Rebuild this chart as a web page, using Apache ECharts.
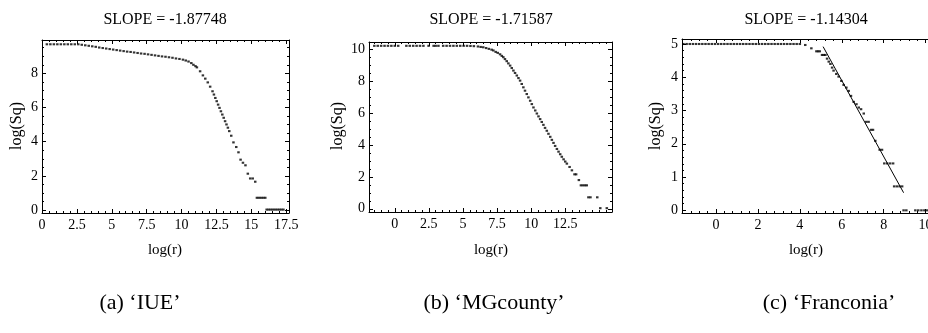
<!DOCTYPE html>
<html>
<head>
<meta charset="utf-8">
<script src="https://cdn.jsdelivr.net/npm/echarts@6/dist/echarts.min.js"></script>
<style>
  html, body { margin: 0; padding: 0; background: #fff; }
  #chart { width: 928px; height: 333px; }
</style>
</head>
<body>
<div id="chart"></div>
<script>
// [log(r), log(Sq)]
const iuePoints = [
  [0.35, 9.7], [0.6, 9.7], [0.85, 9.7], [1.1, 9.7], [1.35, 9.7], [1.6, 9.7], [1.85, 9.7],
  [2.1, 9.7], [2.35, 9.7], [2.6, 9.7], [2.85, 9.67], [3.1, 9.64], [3.35, 9.61], [3.6, 9.58],
  [3.85, 9.55], [4.1, 9.51], [4.35, 9.48], [4.6, 9.45], [4.85, 9.42], [5.1, 9.39], [5.35, 9.36],
  [5.6, 9.33], [5.85, 9.3], [6.1, 9.27], [6.35, 9.25], [6.6, 9.22], [6.85, 9.19], [7.1, 9.16],
  [7.35, 9.14], [7.6, 9.11], [7.85, 9.08], [8.1, 9.05], [8.35, 9.02], [8.6, 8.99], [8.85, 8.97],
  [9.1, 8.94], [9.35, 8.91], [9.6, 8.87], [9.85, 8.84], [10.1, 8.8], [10.3, 8.75], [10.5, 8.69],
  [10.7, 8.6], [10.85, 8.5], [11.0, 8.42], [11.1, 8.35], [11.33, 8.12], [11.53, 7.88],
  [11.7, 7.69], [11.88, 7.47], [12.05, 7.22], [12.22, 6.95], [12.32, 6.76], [12.42, 6.56],
  [12.52, 6.37], [12.62, 6.17], [12.72, 5.98], [12.82, 5.78], [12.92, 5.59], [13.02, 5.4],
  [13.12, 5.2], [13.22, 5.01], [13.32, 4.82], [13.42, 4.62], [13.56, 4.35], [13.72, 3.96],
  [13.92, 3.69], [14.08, 3.38], [14.23, 2.95], [14.4, 2.77], [14.58, 2.62], [14.75, 2.13],
  [14.92, 1.85], [15.1, 1.85], [15.28, 1.66], [15.4, 0.72], [15.55, 0.72], [15.7, 0.72],
  [15.85, 0.72], [16.0, 0.72], [16.1, 0.03], [16.25, 0.03], [16.4, 0.03], [16.55, 0.03],
  [16.7, 0.03], [16.85, 0.03], [17.0, 0.03], [17.15, 0.03], [17.3, 0.03]
]

const mgPoints = [
  [-1.5, 10.21], [-1.25, 10.21], [-1.0, 10.21], [-0.75, 10.21], [-0.5, 10.21], [-0.25, 10.21],
  [0, 10.21], [0.25, 10.21], [0.85, 10.21], [1.1, 10.21], [1.35, 10.21], [1.6, 10.21],
  [1.85, 10.21], [2.1, 10.21], [2.48, 10.21], [2.85, 10.21], [3.0, 10.21], [3.2, 10.21],
  [3.55, 10.21], [3.8, 10.21], [4.05, 10.21], [4.3, 10.21], [4.55, 10.21], [4.8, 10.21],
  [5.05, 10.21], [5.3, 10.21], [5.55, 10.2], [5.8, 10.19], [6.1, 10.17], [6.3, 10.14],
  [6.49, 10.12], [6.7, 10.07], [6.9, 10.02], [7.1, 9.97], [7.23, 9.92], [7.4, 9.83],
  [7.55, 9.77], [7.72, 9.68], [7.85, 9.58], [7.96, 9.5], [8.08, 9.38], [8.21, 9.25],
  [8.33, 9.11], [8.46, 8.97], [8.58, 8.82], [8.7, 8.66], [8.82, 8.51], [8.95, 8.35],
  [9.07, 8.19], [9.19, 8.03], [9.31, 7.82], [9.43, 7.61], [9.55, 7.4], [9.68, 7.19],
  [9.8, 6.98], [9.93, 6.77], [10.05, 6.56], [10.17, 6.35], [10.3, 6.16], [10.42, 5.97],
  [10.54, 5.79], [10.66, 5.62], [10.78, 5.44], [10.9, 5.26], [11.02, 5.07], [11.15, 4.89],
  [11.27, 4.7], [11.4, 4.51], [11.52, 4.32], [11.64, 4.13], [11.76, 3.94], [11.89, 3.75],
  [12.01, 3.58], [12.13, 3.42], [12.25, 3.26], [12.38, 3.1], [12.5, 2.96], [12.62, 2.83],
  [12.82, 2.62], [12.99, 2.41], [13.18, 2.16], [13.3, 2.16], [13.5, 1.8], [13.65, 1.47],
  [13.8, 1.47], [13.95, 1.47], [14.08, 1.47], [14.2, 0.72], [14.35, 0.72], [14.85, 0.72],
  [15.07, 0.04], [15.55, 0.04]
]

const franPoints = [
  [-1.55, 5.0], [-1.4, 5.0], [-1.25, 5.0], [-1.1, 5.0], [-0.95, 5.0], [-0.8, 5.0], [-0.65, 5.0],
  [-0.5, 5.0], [-0.35, 5.0], [-0.2, 5.0], [-0.05, 5.0], [0.1, 5.0], [0.25, 5.0], [0.4, 5.0],
  [0.55, 5.0], [0.7, 5.0], [0.85, 5.0], [1.0, 5.0], [1.15, 5.0], [1.3, 5.0], [1.45, 5.0],
  [1.6, 5.0], [1.75, 5.0], [1.9, 5.0], [2.05, 5.0], [2.2, 5.0], [2.35, 5.0], [2.5, 5.0],
  [2.65, 5.0], [2.8, 5.0], [2.95, 5.0], [3.1, 5.0], [3.25, 5.0], [3.4, 5.0], [3.55, 5.0],
  [3.7, 5.0], [3.85, 5.0], [4.0, 5.0], [4.26, 4.97], [4.55, 4.87], [4.79, 4.78], [4.87, 4.78],
  [4.95, 4.78], [5.06, 4.67], [5.14, 4.67], [5.22, 4.67], [5.3, 4.56], [5.38, 4.47],
  [5.46, 4.4], [5.54, 4.29], [5.61, 4.2], [5.74, 4.1], [5.85, 4.02], [5.98, 3.89], [6.09, 3.77],
  [6.22, 3.69], [6.33, 3.59], [6.44, 3.44], [6.57, 3.26], [6.7, 3.19], [6.81, 3.09],
  [6.92, 3.04], [7.05, 2.91], [7.17, 2.66], [7.28, 2.66], [7.4, 2.42], [7.49, 2.42],
  [7.6, 2.09], [7.81, 1.82], [7.92, 1.82], [8.03, 1.41], [8.17, 1.41], [8.31, 1.41],
  [8.45, 1.41], [8.5, 0.72], [8.63, 0.72], [8.76, 0.72], [8.88, 0.72], [8.95, 0.0],
  [9.08, 0.0], [9.51, 0.0], [9.65, 0.0], [9.8, 0.0], [9.94, 0.0], [10.07, 0.0]
]

// fitted line drawn on the Franconia plot
const franSlope = -1.14304
const franFit = [[5.11, 4.92], [8.95, 0.53]]

const titles = ['SLOPE = -1.87748', 'SLOPE = -1.71587', 'SLOPE = -1.14304']
const captions = ['(a) \u2018IUE\u2019', '(b) \u2018MGcounty\u2019', '(c) \u2018Franconia\u2019']

const xTicks = [
  [0, 2.5, 5, 7.5, 10, 12.5, 15, 17.5],
  [0, 2.5, 5, 7.5, 10, 12.5],
  [0, 2, 4, 6, 8, 10]
]
const yTicks = [
  [0, 2, 4, 6, 8],
  [0, 2, 4, 6, 8, 10],
  [0, 1, 2, 3, 4, 5]
]

const SERIF = '"Liberation Serif", "Times New Roman", serif'

// plot boxes in pixels and the value ranges they cover
const panels = [
  { left: 42, top: 40, width: 247, height: 173, x: [0, 17.7], y: [-0.17, 9.95], xMinor: 0.5, yMinor: 0.5, cx: 165, ylab: 17, cap: 140 },
  { left: 369, top: 42, width: 243, height: 170, x: [-1.89, 15.93], y: [-0.2, 10.45], xMinor: 0.5, yMinor: 0.5, cx: 491, ylab: 338, cap: 494 },
  { left: 682, top: 39, width: 252, height: 174, x: [-1.62, 10.4], y: [-0.08, 5.15], xMinor: 0.4, yMinor: 0.2, cx: 806, ylab: 656, cap: 829 }
]

const minorTicks = (min, max, step) => {
  const out = []
  for (let v = Math.ceil(min / step) * step; v <= max + 1e-9; v += step) out.push(+v.toFixed(4))
  return out
}

const frameAxes = (dim, gridIndex, range, majors, step) => {
  const low = dim === 'x' ? 'bottom' : 'left'
  const high = dim === 'x' ? 'top' : 'right'
  const minors = minorTicks(range[0], range[1], step)
  const base = {
    type: 'value',
    gridIndex,
    min: range[0],
    max: range[1],
    splitLine: { show: false },
    axisLine: { show: true, onZero: false, lineStyle: { color: '#000', width: 1 } }
  }
  const hidden = { show: false, onZero: false }
  const major = { show: true, inside: true, length: 4, customValues: majors, lineStyle: { color: '#000', width: 1 } }
  const minor = { show: true, inside: true, length: 2, customValues: minors, lineStyle: { color: '#000', width: 1 } }
  return [
    {
      ...base,
      position: low,
      axisTick: major,
      axisLabel: { show: true, customValues: majors, margin: dim === 'x' ? 5 : 4, color: '#000', fontFamily: SERIF, fontSize: 14 }
    },
    { ...base, position: high, axisTick: major, axisLabel: { show: false } },
    { ...base, position: low, axisLine: hidden, axisTick: minor, axisLabel: { show: false } },
    { ...base, position: high, axisLine: hidden, axisTick: minor, axisLabel: { show: false } }
  ]
}

const grid = panels.map(p => ({
  left: p.left,
  top: p.top,
  width: p.width,
  height: p.height,
  outerBoundsMode: 'none',
  containLabel: false
}))
const xAxis = panels.flatMap((p, i) => frameAxes('x', i, p.x, xTicks[i], p.xMinor))
const yAxis = panels.flatMap((p, i) => frameAxes('y', i, p.y, yTicks[i], p.yMinor))

const pointSeries = [iuePoints, mgPoints, franPoints].map((pts, i) => ({
  type: 'scatter',
  xAxisIndex: i * 4,
  yAxisIndex: i * 4,
  data: pts,
  symbol: 'rect',
  symbolSize: [2.5, 2.1],
  itemStyle: { color: '#000' },
  silent: true
}))

const fitSeries = {
  type: 'line',
  name: 'slope ' + franSlope,
  xAxisIndex: 8,
  yAxisIndex: 8,
  data: franFit,
  symbol: 'none',
  lineStyle: { color: '#000', width: 1 },
  silent: true
}

const text = (str, x, y, size, rotation) => ({
  type: 'text',
  x,
  y,
  rotation: rotation || 0,
  silent: true,
  style: {
    text: str,
    font: size + 'px ' + SERIF,
    fill: '#000',
    align: 'center',
    verticalAlign: 'middle',
    textAlign: 'center',
    textVerticalAlign: 'middle'
  }
})

const graphic = panels.flatMap((p, i) => [
  text(titles[i], p.cx, 20, 16),
  text('log(r)', p.cx, 250, 15),
  text('log(Sq)', p.ylab, 126, 16, Math.PI / 2),
  text(captions[i], p.cap, 303, 22)
])

const chart = echarts.init(document.getElementById('chart'))
chart.setOption({
  animation: false,
  backgroundColor: '#fff',
  grid,
  xAxis,
  yAxis,
  series: [...pointSeries, fitSeries],
  graphic
})
</script>
</body>
</html>
